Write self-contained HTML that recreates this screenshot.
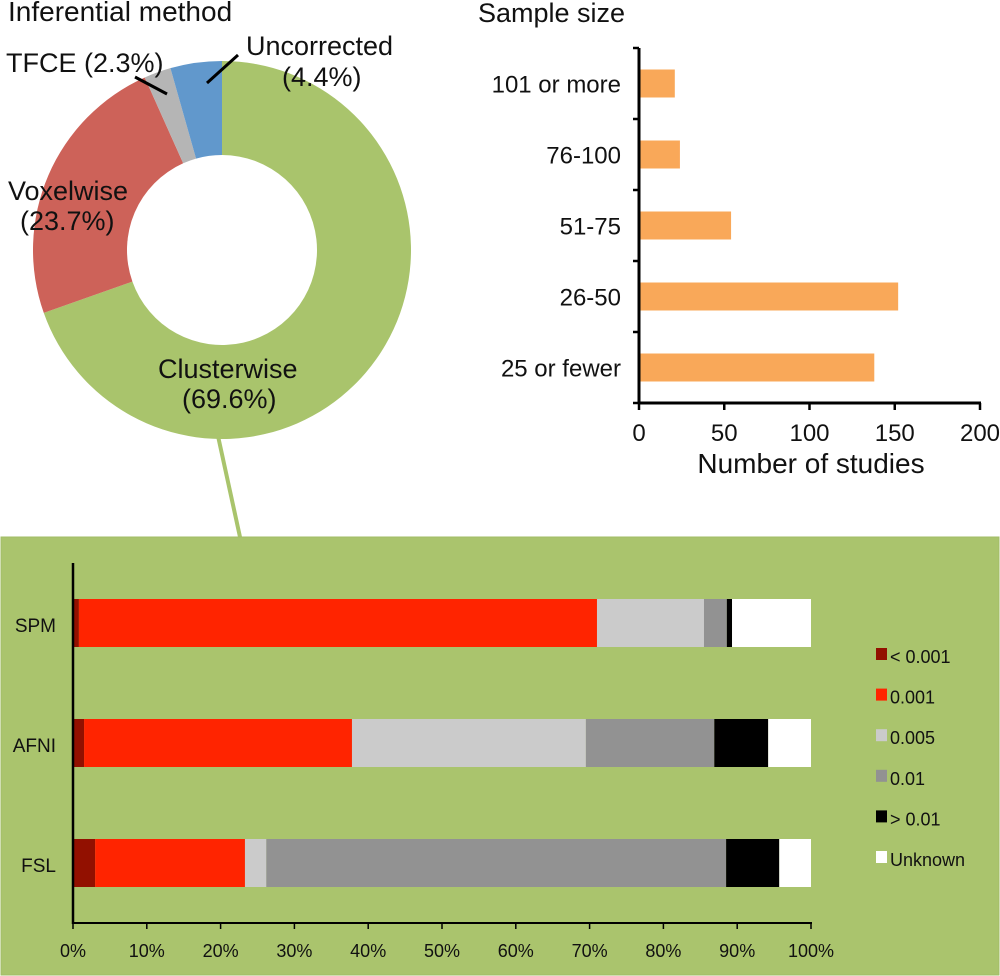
<!DOCTYPE html>
<html><head><meta charset="utf-8"><style>
body{margin:0;background:#fff}
svg{display:block;font-family:"Liberation Sans",Arial,sans-serif}
</style></head><body>
<svg id="fig" width="1000" height="976" viewBox="0 0 1000 976" xmlns="http://www.w3.org/2000/svg">
<rect x="0" y="0" width="1000" height="976" fill="#fff"/>
<g id="donut"></g>
<text x="8" y="21" font-size="28" fill="#111">Inferential method</text>
<line x1="218" y1="436" x2="240" y2="537" stroke="#a9c46c" stroke-width="4"/>
<line x1="135" y1="77" x2="167" y2="94" stroke="#000" stroke-width="3"/>
<line x1="238" y1="55" x2="207" y2="83" stroke="#000" stroke-width="3"/>
<text x="6" y="72" font-size="27" fill="#111">TFCE (2.3%)</text>
<text x="246" y="55" font-size="27" fill="#111">Uncorrected</text>
<text x="282" y="86" font-size="27" fill="#111">(4.4%)</text>
<text x="8" y="200" font-size="27" fill="#111">Voxelwise</text>
<text x="20" y="230" font-size="27" fill="#111">(23.7%)</text>
<text x="158" y="378" font-size="27" fill="#111">Clusterwise</text>
<text x="182" y="408" font-size="27" fill="#111">(69.6%)</text>

<text x="478" y="22" font-size="27" fill="#111">Sample size</text>
<g id="hbar"></g>
<text x="811" y="473" font-size="28" fill="#111" text-anchor="middle">Number of studies</text>

<rect x="1" y="537" width="998" height="438" fill="#aac46d" stroke="#a2bd66"/>
<g id="stack"></g>
</svg>
<script>
const NS="http://www.w3.org/2000/svg";
function mk(p,t,a){const e=document.createElementNS(NS,t);for(const k in a)e.setAttribute(k,a[k]);p.appendChild(e);return e;}

// Donut data
const donutLabels=["Clusterwise","Voxelwise","TFCE","Uncorrected"];
const donutValues=[69.6,23.7,2.3,4.4];
const donutColors=["#a9c46c","#cd6259","#b5b5b5","#6198cc"];

// Sample size data
const sizeCats=["101 or more","76-100","51-75","26-50","25 or fewer"];
const sizeValues=[21,24,54,152,138];
const sizeTicks=[0,50,100,150,200];

// Stacked data
const pkgs=["SPM","AFNI","FSL"];
const thrLabels=["< 0.001","0.001","0.005","0.01","> 0.01","Unknown"];
const thrColors=["#921000","#ff2400","#cbcbcb","#929292","#000000","#ffffff"];
const sLess001=[0.8,1.5,3.0];
const s001=[70.2,36.3,20.3];
const s005=[14.5,31.7,2.9];
const s01=[3.1,17.4,62.3];
const sMore01=[0.7,7.3,7.2];
const sUnknown=[10.7,5.8,4.3];
const pctTicks=[0,10,20,30,40,50,60,70,80,90,100];

// donut
(function(){
 const g=document.getElementById('donut');
 const cx=222,cy=250,R=189,r=95;
 const tot=donutValues.reduce((a,b)=>a+b,0);
 let a0=-Math.PI/2;
 donutValues.forEach((v,i)=>{
  const a1=a0+v/tot*2*Math.PI;const big=(a1-a0)>Math.PI?1:0;
  const p=(a,rr)=>[cx+rr*Math.cos(a),cy+rr*Math.sin(a)];
  const [x0,y0]=p(a0,R),[x1,y1]=p(a1,R),[x2,y2]=p(a1,r),[x3,y3]=p(a0,r);
  const e=mk(g,'path',{d:`M${x0},${y0}A${R},${R} 0 ${big} 1 ${x1},${y1}L${x2},${y2}A${r},${r} 0 ${big} 0 ${x3},${y3}Z`,fill:donutColors[i]});
  
  
  a0=a1;
 });
})();

// horizontal bars
(function(){
 const g=document.getElementById('hbar');
 const x0=639,x1=980,yTop=48,yBot=403;
 const xs=v=>x0+(v/200)*(x1-x0);
 const band=(yBot-yTop)/sizeCats.length;
 sizeCats.forEach((c,i)=>{
  const yc=yTop+band*(i+0.5);
  const b=mk(g,'rect',{x:x0,y:yc-14,width:xs(sizeValues[i])-x0,height:28,fill:"#f9a859"});
  
  
  const t=mk(g,'text',{x:621,y:yc+9,'font-size':24,'text-anchor':'end',fill:'#111'});t.textContent=c;
  
  
 });
 for(let i=0;i<=sizeCats.length;i++){const y=yTop+band*i;const l=mk(g,'line',{x1:x0-6,x2:x0,y1:y,y2:y,stroke:'#000','stroke-width':2.5});
  
  }
 const ay=mk(g,'line',{x1:x0,x2:x0,y1:yTop,y2:yBot+1,stroke:'#000','stroke-width':3});
 
 
 const ax=mk(g,'line',{x1:x0-1,x2:x1+1,y1:yBot,y2:yBot,stroke:'#000','stroke-width':3});
 
 
 sizeTicks.forEach(v=>{const x=xs(v);
  const l=mk(g,'line',{x1:x,x2:x,y1:yBot,y2:yBot+7,stroke:'#000','stroke-width':2.5});
  
  
  const t=mk(g,'text',{x:x,y:441,'font-size':24,'text-anchor':'middle',fill:'#111'});t.textContent=v;
  
  });
})();

// stacked bars
(function(){
 const g=document.getElementById('stack');
 const x0=73,x1=811,yTop=563,yBot=923;
 const xs=v=>x0+v/100*(x1-x0);
 const series=[sLess001,s001,s005,s01,sMore01,sUnknown];
 const yTops=[599,719,839];
 pkgs.forEach((p,i)=>{
  let acc=0;
  series.forEach((s,j)=>{
   const r=mk(g,'rect',{x:xs(acc),y:yTops[i],width:xs(acc+s[i])-xs(acc),height:48,fill:thrColors[j]});
   
   
   acc+=s[i];
  });
  const t=mk(g,'text',{x:56,y:yTops[i]+33,'font-size':19,'text-anchor':'end',fill:'#111'});t.textContent=p;
  
  
 });
 const ay=mk(g,'line',{x1:x0,x2:x0,y1:yTop,y2:yBot+1,stroke:'#000','stroke-width':2.5});
 
 
 const ax=mk(g,'line',{x1:x0,x2:x1+1,y1:yBot,y2:yBot,stroke:'#000','stroke-width':2});
 
 
 pctTicks.forEach(v=>{const x=xs(v);
  const l=mk(g,'line',{x1:x,x2:x,y1:yBot,y2:yBot+6,stroke:'#000','stroke-width':1.5});
  
  
  const t=mk(g,'text',{x:x,y:957,'font-size':18,'text-anchor':'middle',fill:'#111'});t.textContent=v+'%';
  
  });
 thrLabels.forEach((l,j)=>{const y=656+j*40.6;
  const s=mk(g,'rect',{x:876,y:y-8,width:11,height:12,fill:thrColors[j]});
  
  
  const t=mk(g,'text',{x:890,y:y+7,'font-size':18,fill:'#111'});t.textContent=l;
  
  });
})();
</script>
</body></html>
